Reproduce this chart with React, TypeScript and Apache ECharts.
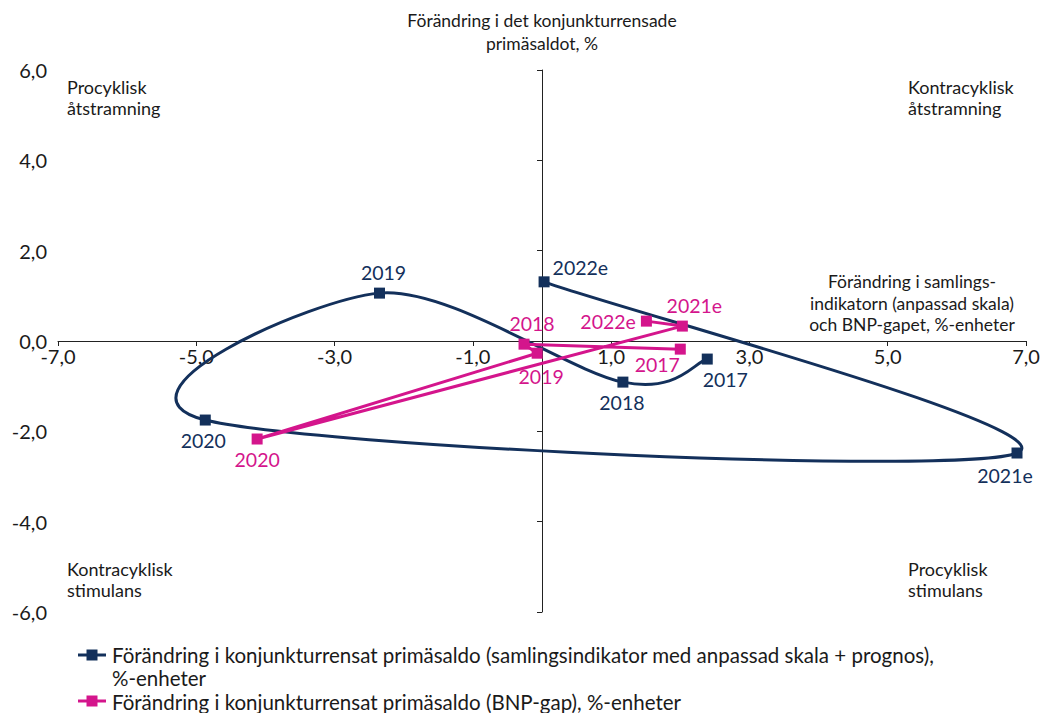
import React, { useEffect, useRef } from "react";
import * as echarts from "echarts";

const years = ["2017", "2018", "2019", "2020", "2021e", "2022e"];
const indikatorX = [2.39, 1.17, -2.35, -4.87, 6.87, 0.03];
const indikatorY = [-0.4, -0.91, 1.06, -1.75, -2.48, 1.31];
const bnpX = [2.0, -0.26, -0.07, -4.12, 2.03, 1.51];
const bnpY = [-0.18, -0.07, -0.27, -2.17, 0.33, 0.44];
const xTicks = [-7, -5, -3, -1, 1, 3, 5, 7];

const seriesNames = [
  "Förändring i konjunkturrensat primäsaldo (samlingsindikator med anpassad skala + prognos),\n%-enheter",
  "Förändring i konjunkturrensat primäsaldo (BNP-gap), %-enheter",
];
const yAxisTitle = "Förändring i det konjunkturrensade\nprimäsaldot, %";
const xAxisTitle = "Förändring i samlings-\nindikatorn (anpassad skala)\noch BNP-gapet, %-enheter";
const quadrants = [
  "Procyklisk\nåtstramning",
  "Kontracyklisk\nåtstramning",
  "Kontracyklisk\nstimulans",
  "Procyklisk\nstimulans",
];

const NAVY = "#13305b";
const PINK = "#d4158c";
const TXT = "#1a1a1a";
const FONT = "Lato";

const navyLabelPos: any[] = [
  { position: "bottom", offset: [18, 0] },
  { position: "bottom", offset: [-1, 0] },
  { position: "top", offset: [4, 0] },
  { position: "bottom", offset: [-2, 0] },
  { position: "bottom", offset: [-12, 2] },
  { position: "right", offset: [-2, -14] },
];
const pinkLabelPos: any[] = [
  { position: "bottom", offset: [-23, -5] },
  { position: "top", offset: [8, 0] },
  { position: "bottom", offset: [4, 3] },
  { position: "bottom", offset: [0, 0] },
  { position: "top", offset: [12, 0] },
  { position: "left", offset: [0, 0] },
];

const fmt = (v: number) => v.toFixed(1).replace(".", ",");

const GRID = { left: 58, right: 16, top: 70, bottom: 101 };
const GRID_H = 713 - GRID.top - GRID.bottom;

export default function App() {
  const ref = useRef<HTMLDivElement>(null);
  useEffect(() => {
    if (!ref.current) return;
    const chart = echarts.init(ref.current, undefined, { renderer: "svg" });
    const mk = (xs: number[], ys: number[], pos: any[], color: string) =>
      xs.map((x, i) => ({
        value: [x, ys[i]],
        name: years[i],
        label: {
          show: true,
          formatter: years[i],
          position: pos[i].position,
          offset: pos[i].offset,
          color,
          opacity: 1,
          fontSize: 19.5,
          fontFamily: FONT,
          distance: 5,
        },
      }));

    const navyPts = indikatorX.map((x, i) => [x, indikatorY[i]]);

    const legendItems: any[] = [];
    const legendRows = [655, 701];
    [NAVY, PINK].forEach((c, i) => {
      const y = legendRows[i];
      legendItems.push({
        type: "line",
        shape: { x1: 78, y1: y, x2: 106, y2: y },
        style: { stroke: c, lineWidth: 3 },
      });
      legendItems.push({
        type: "rect",
        shape: { x: 86.5, y: y - 5.5, width: 11, height: 11 },
        style: { fill: c },
      });
      legendItems.push({
        type: "text",
        x: 112,
        y: i === 0 ? y - 11.5 : y - 10,
        style: {
          text: seriesNames[i],
          font: `20.5px ${FONT}`,
          fill: TXT,
          lineHeight: i === 0 ? 23 : 21,
          textVerticalAlign: "top",
        },
      });
    });

    const quadPos = [
      [67, 77],
      [908, 77],
      [67, 559],
      [908, 559],
    ];

    chart.setOption({
      animation: false,
      textStyle: { fontFamily: FONT },
      grid: {
        ...GRID,
        containLabel: false,
        outerBoundsMode: "none",
      },
      xAxis: {
        type: "value",
        min: -7,
        max: 7,
        offset: -GRID_H / 2,
        splitLine: { show: false },
        axisLine: { onZero: false, lineStyle: { color: "#222", width: 1 } },
        axisTick: { show: true, customValues: xTicks, length: 5, lineStyle: { color: "#222" } },
        axisLabel: {
          customValues: xTicks,
          formatter: fmt,
          fontSize: 20,
          color: TXT,
          fontFamily: FONT,
          margin: 5,
        },
      },
      yAxis: {
        type: "value",
        min: -6,
        max: 6,
        interval: 2,
        splitLine: { show: false },
        axisLine: { show: true, onZero: true, lineStyle: { color: "#222", width: 1 } },
        axisTick: { show: true, inside: false, length: 5, lineStyle: { color: "#222" } },
        axisLabel: {
          formatter: fmt,
          fontSize: 20,
          color: TXT,
          fontFamily: FONT,
          margin: 11,
        },
        name: yAxisTitle,
        nameLocation: "end",
        nameGap: 15,
        nameTextStyle: {
          fontSize: 17.5,
          fontFamily: FONT,
          color: TXT,
          align: "center",
          lineHeight: 23,
        },
      },
      series: [
        {
          type: "custom",
          name: seriesNames[0],
          data: navyPts,
          encode: { x: 0, y: 1 },
          clip: false,
          z: 3,
          renderItem: (params: any, api: any) => {
            const i = params.dataIndex;
            const n = navyPts.length;
            if (i >= n - 1) return null;
            const P = (k: number) => api.coord(navyPts[Math.max(0, Math.min(n - 1, k))]);
            const p0 = P(i - 1);
            const p1 = P(i);
            const p2 = P(i + 1);
            const p3 = P(i + 2);
            const t = 1 / 6;
            return {
              type: "bezierCurve",
              shape: {
                x1: p1[0],
                y1: p1[1],
                x2: p2[0],
                y2: p2[1],
                cpx1: p1[0] + (p2[0] - p0[0]) * t,
                cpy1: p1[1] + (p2[1] - p0[1]) * t,
                cpx2: p2[0] - (p3[0] - p1[0]) * t,
                cpy2: p2[1] - (p3[1] - p1[1]) * t,
              },
              style: { stroke: NAVY, lineWidth: 3, fill: null },
            };
          },
        },
        {
          type: "scatter",
          name: seriesNames[0] + " ",
          data: mk(indikatorX, indikatorY, navyLabelPos, NAVY),
          symbol: "rect",
          symbolSize: 11,
          itemStyle: { color: NAVY, opacity: 1 },
          z: 4,
        },
        {
          type: "line",
          name: seriesNames[1],
          data: mk(bnpX, bnpY, pinkLabelPos, PINK),
          symbol: "rect",
          symbolSize: 11,
          lineStyle: { color: PINK, width: 3 },
          itemStyle: { color: PINK, opacity: 1 },
          z: 5,
        },
      ],
      graphic: [
        {
          type: "text",
          x: 912,
          y: 271,
          style: {
            text: xAxisTitle,
            font: `17.5px ${FONT}`,
            fill: TXT,
            textAlign: "center",
            textVerticalAlign: "top",
            lineHeight: 21.5,
          },
        },
        ...quadrants.map((q, i) => ({
          type: "text",
          x: quadPos[i][0],
          y: quadPos[i][1],
          style: {
            text: q,
            font: `18px ${FONT}`,
            fill: TXT,
            textVerticalAlign: "top",
            lineHeight: 20.5,
          },
        })),
        ...legendItems,
      ],
    });
    return () => chart.dispose();
  }, []);
  return (
    <div
      ref={ref}
      style={{ position: "fixed", left: 0, top: 0, width: 1042, height: 713, background: "#fff" }}
    />
  );
}
